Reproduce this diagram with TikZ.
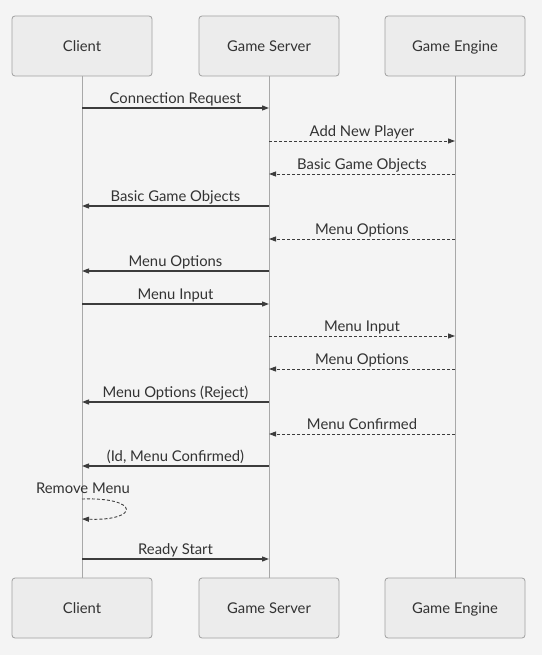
\documentclass[tikz,border=0pt]{standalone}
\usepackage{fontspec}
\setmainfont{Lato}
\usetikzlibrary{arrows.meta}
\definecolor{bg}{HTML}{F4F4F4}
\definecolor{boxfill}{HTML}{ECECEC}
\definecolor{boxline}{HTML}{A0A0A0}
\definecolor{lifec}{HTML}{A8A8A8}
\definecolor{arrc}{HTML}{3C3C3C}
\definecolor{txt}{HTML}{333333}
\tikzset{
  actor/.style={draw=boxline, fill=boxfill, rounded corners=3pt, line width=0.8pt,
    minimum width=140pt, minimum height=60pt, inner sep=0pt, text=txt,
    text height=11.5pt, text depth=0pt,
    font=\fontsize{14.8}{17}\selectfont},
  life/.style={draw=lifec, line width=0.9pt},
  call/.style={draw=arrc, line width=1.2pt, -{Triangle[length=7pt,width=5pt]}},
  reply/.style={call, line width=0.9pt, dash pattern=on 3pt off 2pt},
  lbl/.style={anchor=base, yshift=4.5pt, inner sep=0pt, text=txt,
    font=\fontsize{14.8}{17}\selectfont}
}
\begin{document}
\begin{tikzpicture}[x=1pt,y=-1pt]
\useasboundingbox[fill=bg] (0,0) rectangle (542,655);
% actors
\node[actor] (ct) at (82,46) {Client};
\node[actor] (st) at (269,46) {Game Server};
\node[actor] (et) at (455,46) {Game Engine};
\node[actor] (cb) at (82,608) {Client};
\node[actor] (sb) at (269,608) {Game Server};
\node[actor] (eb) at (455,608) {Game Engine};
% lifelines
\draw[life] (ct.south) -- (cb.north);
\draw[life] (st.south) -- (sb.north);
\draw[life] (et.south) -- (eb.north);
% message end points
\foreach \n/\y in {1/108,2/141,3/174,4/206,5/239,6/271,7/304,8/336,9/369,10/402,11/434,12/466,14/559}{
  \coordinate (c\n) at (82,\y);
  \coordinate (s\n) at (269,\y);
  \coordinate (e\n) at (455,\y);
}
\draw[call]  (c1) -- node[lbl]{Connection Request} (s1);
\draw[reply] (s2) -- node[lbl]{Add New Player} (e2);
\draw[reply] (e3) -- node[lbl]{Basic Game Objects} (s3);
\draw[call]  (s4) -- node[lbl]{Basic Game Objects} (c4);
\draw[reply] (e5) -- node[lbl]{Menu Options} (s5);
\draw[call]  (s6) -- node[lbl]{Menu Options} (c6);
\draw[call]  (c7) -- node[lbl]{Menu Input} (s7);
\draw[reply] (s8) -- node[lbl]{Menu Input} (e8);
\draw[reply] (e9) -- node[lbl]{Menu Options} (s9);
\draw[call]  (s10) -- node[lbl]{Menu Options (Reject)} (c10);
\draw[reply] (e11) -- node[lbl]{Menu Confirmed} (s11);
\draw[call]  (s12) -- node[lbl]{(Id, Menu Confirmed)} (c12);
% self message
\coordinate (lp1) at (82,499);
\coordinate (lp2) at (82,519);
\node[lbl] (rm) at (83,498) {Remove Menu};
\draw[reply] (lp1) .. controls (140,497) and (140,521) .. (lp2);
\draw[call]  (c14) -- node[lbl]{Ready Start} (s14);
\end{tikzpicture}
\end{document}
